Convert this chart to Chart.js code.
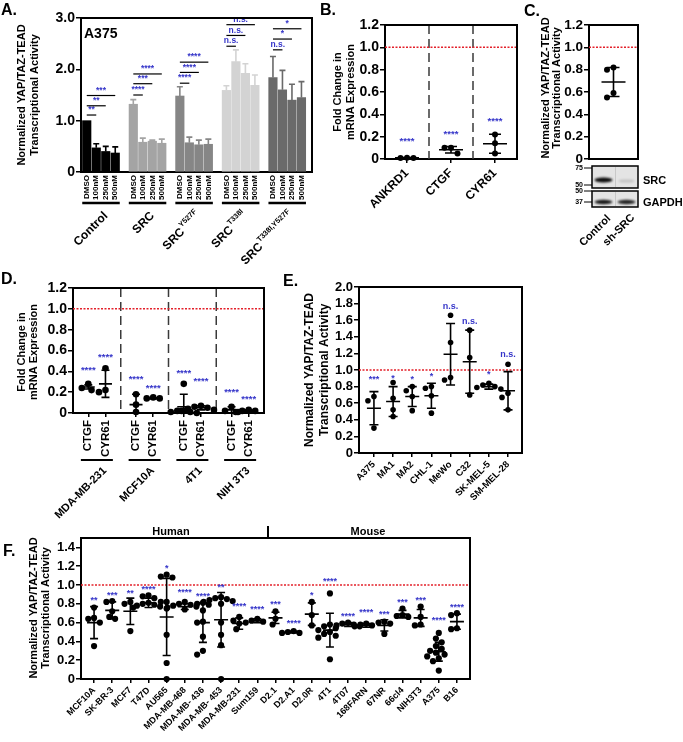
<!DOCTYPE html>
<html>
<head>
<meta charset="utf-8">
<script src="https://cdn.jsdelivr.net/npm/chart.js@4.4.1/dist/chart.umd.min.js"></script>
<style>
html, body { margin: 0; padding: 0; background: #fff; }
#wrap { position: relative; width: 683px; height: 742px; }
#wrap canvas { position: absolute; left: 0; top: 0; }
</style>
</head>
<body>
<div id="wrap">
<canvas id="cA" width="683" height="742"></canvas>
<canvas id="cB" width="683" height="742"></canvas>
<canvas id="cC" width="683" height="742"></canvas>
<canvas id="cD" width="683" height="742"></canvas>
<canvas id="cE" width="683" height="742"></canvas>
<canvas id="cF" width="683" height="742"></canvas>
</div>
<script>
// ---- panel A: bars, A375 ----
const aGroups = ['Control', 'SRC', 'SRC', 'SRC', 'SRC'];
const aGroupSup = ['', '', 'Y527F', 'T338I', 'T338I,Y527F'];
const aDoses = ['DMSO', '100nM', '250nM', '500nM'];
const aMeans = [
    [1.00, 0.47, 0.40, 0.37],
    [1.32, 0.58, 0.60, 0.56],
    [1.48, 0.57, 0.53, 0.54],
    [1.59, 2.15, 1.92, 1.69],
    [1.84, 1.60, 1.40, 1.45]
];
const aErr = [
    [0.00, 0.08, 0.10, 0.12],
    [0.09, 0.08, 0.02, 0.08],
    [0.18, 0.11, 0.09, 0.10],
    [0.09, 0.23, 0.19, 0.20],
    [0.41, 0.38, 0.31, 0.31]
];
const aSigY = [
    [1.11, 1.29, 1.49],
    [1.50, 1.72, 1.91],
    [1.73, 1.94, 2.14],
    [2.45, 2.66, 2.87],
    [2.38, 2.59, 2.79]
];
const aSig = [
    ['**', '**', '***'],
    ['****', '***', '****'],
    ['****', '****', '****'],
    ['n.s.', 'n.s.', 'n.s.'],
    ['n.s.', '*', '*']
];
const aTicks = [0, 1, 2, 3];

// ---- panel B: fold change, three genes ----
const bGenes = ['ANKRD1', 'CTGF', 'CYR61'];
const bPoints = [[0.012, 0.008, 0.010], [0.10, 0.10, 0.05], [0.22, 0.14, 0.05]];
const bMean = [0.010, 0.083, 0.137];
const bSD = [0.003, 0.029, 0.085];
const bSig = ['****', '****', '****'];
const bSigY = [0.16, 0.22, 0.34];
const fold12Ticks = [0, 0.2, 0.4, 0.6, 0.8, 1.0, 1.2];

// ---- panel C: sh-SRC ----
const cPoints = [[0.82, 0.80, 0.59, 0.55]];
const cMean = [0.69];
const cSD = [0.13];

// ---- panel D: fold change per cell line ----
const dLines = ['MDA-MB-231', 'MCF10A', '4T1', 'NIH 3T3'];
const dGenes = ['CTGF', 'CYR61'];
const dPoints = [
    [0.28, 0.24, 0.22], [0.43, 0.22, 0.20],
    [0.18, 0.08, 0.01], [0.14, 0.14, 0.15],
    [0.28, 0.02, 0.01, 0.01, 0.00, 0.02], [0.07, 0.06, 0.05, 0.04, 0.02, 0.03],
    [0.06, 0.02, 0.01], [0.03, 0.02, 0.02, 0.01]
];
const dMean = [0.25, 0.28, 0.08, 0.14, 0.06, 0.05, 0.03, 0.02];
const dSD = [0.02, 0.13, 0.10, 0.006, 0.12, 0.02, 0.03, 0.01];
const dSig = ['****', '****', '****', '****', '****', '****', '****', '****'];
const dSigY = [0.41, 0.53, 0.32, 0.24, 0.38, 0.30, 0.20, 0.13];

// ---- panel E: melanoma lines ----
const eLines = ['A375', 'MA1', 'MA2', 'CHL-1', 'MeWo', 'C32', 'SK-MEL-5', 'SM-MEL-28'];
const ePoints = [
    [0.68, 0.63, 0.30],
    [0.85, 0.66, 0.52, 0.44],
    [0.80, 0.75, 0.68, 0.51],
    [0.80, 0.78, 0.69, 0.48],
    [1.66, 1.33, 0.91, 0.88],
    [1.48, 1.15, 0.70],
    [0.84, 0.82, 0.80, 0.79, 0.77],
    [1.07, 0.72, 0.67, 0.52]
];
const eMean = [0.54, 0.62, 0.68, 0.69, 1.19, 1.10, 0.80, 0.75];
const eSD = [0.20, 0.18, 0.12, 0.15, 0.37, 0.38, 0.03, 0.23];
const eSig = ['***', '*', '*', '*', 'n.s.', 'n.s.', '*', 'n.s.'];
const eSigY = [0.88, 0.90, 0.89, 0.92, 1.76, 1.59, 0.94, 1.19];
const eTicks = [0, 0.2, 0.4, 0.6, 0.8, 1.0, 1.2, 1.4, 1.6, 1.8, 2.0];

// ---- panel F: human and mouse lines ----
const fLines = ['MCF10A', 'SK-BR-3', 'MCF7', 'T47D', 'AU565', 'MDA-MB-468', 'MDA-MB- 436', 'MDA-MB- 453',
    'MDA-MB-231', 'Sum159', 'D2.1', 'D2.A1', 'D2.0R', '4T1', '4T07', '168FARN', '67NR', '66cl4',
    'NIH3T3', 'A375', 'B16'];
const fPoints = [
    [0.76, 0.65, 0.64, 0.60, 0.35],
    [0.83, 0.82, 0.72, 0.66, 0.64],
    [0.82, 0.80, 0.76, 0.51],
    [0.89, 0.88, 0.86, 0.81, 0.80, 0.79, 0.78, 0.77],
    [1.11, 1.09, 1.08, 0.82, 0.82, 0.75, 0.47, 0.17, 0.00],
    [0.82, 0.80, 0.79, 0.78, 0.77, 0.76, 0.74],
    [0.81, 0.80, 0.79, 0.73, 0.61, 0.60, 0.45, 0.30, 0.26],
    [0.87, 0.86, 0.85, 0.84, 0.83, 0.82, 0.80, 0.60, 0.47, 0.36, 0.00],
    [0.66, 0.62, 0.59, 0.53],
    [0.64, 0.62, 0.61, 0.60],
    [0.72, 0.64, 0.58],
    [0.51, 0.50, 0.49, 0.49],
    [0.82, 0.68, 0.57],
    [0.91, 0.58, 0.56, 0.54, 0.52, 0.50, 0.48, 0.46, 0.44, 0.21],
    [0.60, 0.59, 0.58, 0.57, 0.56],
    [0.59, 0.58, 0.57, 0.56],
    [0.61, 0.60, 0.59, 0.48],
    [0.75, 0.68, 0.67, 0.66],
    [0.77, 0.66, 0.58, 0.57],
    [0.49, 0.43, 0.39, 0.35, 0.32, 0.30, 0.28, 0.26, 0.24, 0.22, 0.19, 0.09],
    [0.70, 0.68, 0.54, 0.53]
];
const fMean = [0.60, 0.73, 0.72, 0.81, 0.66, 0.77, 0.60, 0.63, 0.59, 0.62, 0.65, 0.50, 0.69, 0.52,
    0.58, 0.57, 0.57, 0.69, 0.65, 0.29, 0.61];
const fSD = [0.17, 0.09, 0.14, 0.05, 0.41, 0.03, 0.21, 0.29, 0.06, 0.02, 0.06, 0.01, 0.12, 0.18,
    0.02, 0.02, 0.06, 0.04, 0.09, 0.10, 0.08];
const fSig = ['**', '***', '**', '****', '*', '****', '****', '**', '****', '****', '***', '****', '*',
    '****', '****', '****', '***', '***', '***', '****', '****'];
const fSigY = [0.84, 0.89, 0.91, 0.95, 1.18, 0.92, 0.88, 0.97, 0.77, 0.74, 0.79, 0.59, 0.89, 1.04,
    0.67, 0.71, 0.69, 0.81, 0.84, 0.62, 0.76];
const fTicks = [0, 0.2, 0.4, 0.6, 0.8, 1.0, 1.2, 1.4];

// ---------------------------------------------------------------
const W = 683, H = 742;
const FONT = '"Liberation Sans", Arial, Helvetica, sans-serif';
const BLUE = '#3535c9';
const RED = '#e3202a';
const A_STEP = 4.9;
const aColors = ['#000000', '#a4a4a4', '#868686', '#d3d3d3', '#6a6a6a'];

function bold(size) { return 'bold ' + size + 'px ' + FONT; }
function tickFont(size) { return { family: FONT, size: size, weight: 'bold' }; }

function padFor(area, yW, xH) {
    return { left: area.L - yW, top: area.T, right: W - area.R, bottom: H - area.B - xH };
}

function yAxis(max, ticks, size) {
    return {
        min: 0, max: max,
        afterFit: s => { s.width = 40; },
        afterBuildTicks: s => { s.ticks = ticks.map(v => ({ value: v })); },
        ticks: { font: tickFont(size), color: '#000', padding: 1, autoSkip: false,
                 callback: v => v === 0 ? '0' : v.toFixed(1) },
        grid: { drawOnChartArea: false, color: '#000', lineWidth: 1.5, tickLength: 5 },
        border: { color: '#000', width: 2 }
    };
}

function yTitle(ctx, x1, x2, y, l1, l2, size) {
    ctx.save();
    ctx.font = bold(size);
    ctx.fillStyle = '#000';
    ctx.textAlign = 'center';
    ctx.textBaseline = 'middle';
    [[x1, l1], [x2, l2]].forEach(([x, t]) => {
        ctx.save();
        ctx.translate(x, y);
        ctx.rotate(-Math.PI / 2);
        ctx.fillText(t, 0, 0);
        ctx.restore();
    });
    ctx.restore();
}

function letter(ctx, t, x, y) {
    ctx.save();
    ctx.font = bold(16);
    ctx.fillStyle = '#000';
    ctx.textBaseline = 'alphabetic';
    ctx.fillText(t, x, y);
    ctx.restore();
}

function boxTopRight(ctx, area) {
    ctx.save();
    ctx.strokeStyle = '#000';
    ctx.lineWidth = 2;
    ctx.beginPath();
    ctx.moveTo(area.left - 1, area.top);
    ctx.lineTo(area.right, area.top);
    ctx.lineTo(area.right, area.bottom + 1);
    ctx.stroke();
    ctx.restore();
}

function rotLabel(ctx, x, y, base, sup, size) {
    ctx.save();
    ctx.translate(x, y);
    ctx.rotate(-Math.PI / 4);
    ctx.fillStyle = '#000';
    ctx.textBaseline = 'middle';
    ctx.textAlign = 'left';
    const supSize = size * 0.62;
    ctx.font = bold(supSize);
    const ws = sup ? ctx.measureText(sup).width + 1 : 0;
    ctx.font = bold(size);
    const wb = ctx.measureText(base).width;
    ctx.fillText(base, -wb - ws, 0);
    if (sup) {
        ctx.font = bold(supSize);
        ctx.fillText(sup, -ws + 1, -size * 0.42);
    }
    ctx.restore();
}

// place dots of one column side by side when they would overlap
function swarm(vals, pxY, pxX, diam) {
    const placed = [];
    const out = new Array(vals.length).fill(0);
    const order = vals.map((v, i) => i).sort((a, b) => vals[b] - vals[a]);
    order.forEach(i => {
        const y = vals[i] * pxY;
        for (let k = 0; k < 40; k++) {
            const dx = (k % 2 ? -1 : 1) * Math.ceil(k / 2) * diam * 0.5;
            if (placed.every(p => Math.hypot(p.x - dx, p.y - y) >= diam)) {
                placed.push({ x: dx, y: y });
                out[i] = dx / pxX;
                break;
            }
        }
    });
    return out;
}

function drawA() {
    const area = { L: 81, T: 18, R: 312, B: 172 };
    const pts = [], cols = [], ticks = [];
    aMeans.forEach((grp, g) => grp.forEach((v, k) => {
        const x = g * A_STEP + k;
        pts.push({ x: x, y: v });
        cols.push(aColors[g]);
        ticks.push({ value: x });
    }));

    const overlay = {
        id: 'ovA',
        afterDatasetsDraw(chart) {
            const ctx = chart.ctx, xs = chart.scales.x, ys = chart.scales.y;
            ctx.save();
            // error bars, upper only
            aMeans.forEach((grp, g) => grp.forEach((v, k) => {
                const e = aErr[g][k];
                if (!e) return;
                const x = xs.getPixelForValue(g * A_STEP + k);
                const y0 = ys.getPixelForValue(v), y1 = ys.getPixelForValue(v + e);
                ctx.strokeStyle = aColors[g];
                ctx.lineWidth = 1.6;
                ctx.beginPath();
                ctx.moveTo(x, y0); ctx.lineTo(x, y1);
                ctx.moveTo(x - 3, y1); ctx.lineTo(x + 3, y1);
                ctx.stroke();
            }));
            // significance brackets
            aSigY.forEach((levels, g) => levels.forEach((v, j) => {
                const x0 = xs.getPixelForValue(g * A_STEP);
                const x1 = xs.getPixelForValue(g * A_STEP + j + 1);
                const y = ys.getPixelForValue(v);
                ctx.strokeStyle = '#000';
                ctx.lineWidth = 1.2;
                ctx.beginPath();
                ctx.moveTo(x0, y); ctx.lineTo(x1, y);
                ctx.stroke();
                ctx.fillStyle = BLUE;
                ctx.font = bold(8.5);
                ctx.textAlign = 'center';
                ctx.textBaseline = 'bottom';
                ctx.fillText(aSig[g][j], (x0 + x1) / 2, y - 1);
            }));
            ctx.restore();
        },
        afterDraw(chart) {
            const ctx = chart.ctx, xs = chart.scales.x;
            boxTopRight(ctx, chart.chartArea);
            ctx.save();
            ctx.font = bold(14);
            ctx.fillStyle = '#000';
            ctx.fillText('A375', 84, 38);
            // group underlines and names
            ctx.lineWidth = 2.5;
            ctx.strokeStyle = '#000';
            aGroups.forEach((name, g) => {
                const x0 = xs.getPixelForValue(g * A_STEP) - 4.5;
                const x1 = xs.getPixelForValue(g * A_STEP + 3) + 4.5;
                ctx.beginPath();
                ctx.moveTo(x0, 203); ctx.lineTo(x1, 203);
                ctx.stroke();
                rotLabel(ctx, (x0 + x1) / 2 + 5, 214, name, aGroupSup[g], 12);
            });
            ctx.restore();
            yTitle(ctx, 22, 35, 95, 'Normalized YAP/TAZ-TEAD', 'Transcriptional Activity', 11);
            letter(ctx, 'A.', 1, 15);
        }
    };

    new Chart(document.getElementById('cA'), {
        type: 'bar',
        data: { datasets: [{ data: pts, backgroundColor: cols, barThickness: 8.5, clip: false }] },
        options: {
            responsive: false, animation: false, events: [],
            layout: { padding: padFor(area, 40, 40) },
            plugins: { legend: { display: false }, tooltip: { enabled: false } },
            scales: {
                x: {
                    type: 'linear', min: -0.605, max: 23.71, offset: false,
                    afterFit: s => { s.height = 40; },
                    afterBuildTicks: s => { s.ticks = ticks.slice(); },
                    ticks: { autoSkip: false, minRotation: 90, maxRotation: 90, font: tickFont(8),
                             color: '#000', padding: 3, callback: (v, i) => aDoses[i % 4] },
                    grid: { display: false, drawTicks: false, tickLength: 0 },
                    border: { color: '#000', width: 2 }
                },
                y: yAxis(3, aTicks, 14)
            }
        },
        plugins: [overlay]
    });
}

// generic dot plot with mean and SD
function dotPanel(id, o) {
    const pxY = (o.area.B - o.area.T) / o.yMax;
    const pxX = (o.area.R - o.area.L) / (o.xMax - o.xMin);
    const data = [];
    o.points.forEach((vals, i) => {
        const offs = swarm(vals, pxY, pxX, o.diam);
        vals.forEach((v, j) => data.push({ x: o.centers[i] + offs[j], y: v }));
    });

    const overlay = {
        id: 'ov' + id,
        beforeDatasetsDraw(chart) {
            const ctx = chart.ctx, xs = chart.scales.x, ys = chart.scales.y, a = chart.chartArea;
            ctx.save();
            (o.seps || []).forEach(s => {
                const x = xs.getPixelForValue(s);
                ctx.strokeStyle = '#3a3a3a';
                ctx.lineWidth = 1.5;
                ctx.setLineDash([9, 5]);
                ctx.beginPath();
                ctx.moveTo(x, a.top); ctx.lineTo(x, a.bottom);
                ctx.stroke();
            });
            const yr = ys.getPixelForValue(1.0);
            ctx.strokeStyle = RED;
            ctx.lineWidth = 1.5;
            ctx.setLineDash([2, 1.5]);
            ctx.beginPath();
            ctx.moveTo(a.left, yr); ctx.lineTo(a.right, yr);
            ctx.stroke();
            ctx.restore();
        },
        afterDatasetsDraw(chart) {
            const ctx = chart.ctx, xs = chart.scales.x, ys = chart.scales.y;
            ctx.save();
            ctx.strokeStyle = '#000';
            ctx.lineWidth = 1.6;
            o.means.forEach((m, i) => {
                const x = xs.getPixelForValue(o.centers[i]);
                const ym = ys.getPixelForValue(m);
                const yt = ys.getPixelForValue(m + o.sds[i]);
                const yb = ys.getPixelForValue(Math.max(0, m - o.sds[i]));
                ctx.beginPath();
                ctx.moveTo(x - o.meanHalf, ym); ctx.lineTo(x + o.meanHalf, ym);
                ctx.moveTo(x, yt); ctx.lineTo(x, yb);
                ctx.moveTo(x - o.capHalf, yt); ctx.lineTo(x + o.capHalf, yt);
                ctx.moveTo(x - o.capHalf, yb); ctx.lineTo(x + o.capHalf, yb);
                ctx.stroke();
            });
            ctx.fillStyle = BLUE;
            ctx.font = bold(o.sigSize || 9);
            ctx.textAlign = 'center';
            ctx.textBaseline = 'middle';
            (o.sig || []).forEach((t, i) => {
                ctx.fillText(t, xs.getPixelForValue(o.centers[i]), ys.getPixelForValue(o.sigY[i]));
            });
            ctx.restore();
        },
        afterDraw(chart) {
            boxTopRight(chart.ctx, chart.chartArea);
            if (o.extra) o.extra(chart);
        }
    };

    const xTickList = o.labels ? o.centers.map(c => ({ value: c })) : [];
    new Chart(document.getElementById(id), {
        type: 'scatter',
        data: { datasets: [{ data: data, pointRadius: o.r, pointBackgroundColor: '#000',
                             pointBorderWidth: 0, clip: false }] },
        options: {
            responsive: false, animation: false, events: [],
            layout: { padding: padFor(o.area, 40, o.xH) },
            plugins: { legend: { display: false }, tooltip: { enabled: false } },
            scales: {
                x: {
                    type: 'linear', min: o.xMin, max: o.xMax,
                    afterFit: s => { s.height = o.xH; },
                    afterBuildTicks: s => { s.ticks = xTickList.slice(); },
                    ticks: {
                        display: !!o.labels, autoSkip: false, minRotation: o.rot, maxRotation: o.rot,
                        font: tickFont(o.xSize), color: '#000', padding: o.xPad,
                        callback: (v, i) => o.labels ? o.labels[i] : ''
                    },
                    grid: { display: !!o.labels, drawOnChartArea: false, color: '#000', lineWidth: 1.5, tickLength: 4 },
                    border: { color: '#000', width: 2 }
                },
                y: yAxis(o.yMax, o.yTicks, o.ySize)
            }
        },
        plugins: [overlay]
    });
}

function drawBlot(ctx) {
    ctx.save();
    ctx.fillStyle = '#e4e4e4';
    ctx.strokeStyle = '#000';
    ctx.lineWidth = 1.5;
    [[592, 166, 46, 22], [592, 191, 46, 16]].forEach(b => {
        ctx.fillRect(b[0], b[1], b[2], b[3]);
        ctx.strokeRect(b[0], b[1], b[2], b[3]);
    });
    ctx.strokeStyle = '#c8c8c8';
    ctx.lineWidth = 1;
    ctx.beginPath();
    ctx.moveTo(615.5, 167); ctx.lineTo(615.5, 187);
    ctx.moveTo(615.5, 192); ctx.lineTo(615.5, 206);
    ctx.stroke();
    ctx.filter = 'blur(0.8px)';
    [[603.5, 180, 9, 2.6, 'rgba(0,0,0,0.95)'], [626.5, 181, 8, 1.6, 'rgba(0,0,0,0.15)'],
     [603.5, 202, 9, 2.2, 'rgba(0,0,0,0.9)'], [626.5, 202, 9, 2.2, 'rgba(0,0,0,0.85)']].forEach(b => {
        ctx.fillStyle = b[4];
        ctx.beginPath();
        ctx.ellipse(b[0], b[1], b[2], b[3], 0, 0, Math.PI * 2);
        ctx.fill();
    });
    ctx.filter = 'none';
    ctx.fillStyle = '#000';
    ctx.strokeStyle = '#000';
    ctx.font = bold(7);
    ctx.textAlign = 'right';
    ctx.textBaseline = 'middle';
    [['75', 168], ['50', 185], ['50', 191], ['37', 202]].forEach(m => {
        ctx.fillText(m[0], 583, m[1]);
        ctx.beginPath();
        ctx.moveTo(584, m[1]); ctx.lineTo(592, m[1]);
        ctx.stroke();
    });
    ctx.font = bold(11);
    ctx.textAlign = 'left';
    ctx.fillText('SRC', 643, 181);
    ctx.fillText('GAPDH', 643, 203);
    ctx.restore();
    rotLabel(ctx, 609, 217, 'Control', '', 11);
    rotLabel(ctx, 633, 216, 'sh-SRC', '', 11);
}

drawA();

dotPanel('cB', {
    area: { L: 385, T: 25, R: 517, B: 159 },
    xMin: -0.5, xMax: 2.5, yMax: 1.2, yTicks: fold12Ticks, ySize: 14,
    centers: [0, 1, 2], labels: bGenes, rot: 45, xSize: 12, xPad: 3, xH: 70,
    points: bPoints, means: bMean, sds: bSD, sig: bSig, sigY: bSigY, sigSize: 9.5,
    seps: [0.5, 1.5], r: 3, diam: 6.5, meanHalf: 12, capHalf: 6,
    extra(chart) {
        yTitle(chart.ctx, 338, 351, 92, 'Fold Change in', 'mRNA Expression', 11);
        letter(chart.ctx, 'B.', 320, 15);
    }
});

dotPanel('cC', {
    area: { L: 589, T: 25, R: 638, B: 159 },
    xMin: -0.5, xMax: 0.5, yMax: 1.2, yTicks: fold12Ticks, ySize: 13.5,
    centers: [0], labels: null, rot: 0, xSize: 10, xPad: 2, xH: 30,
    points: cPoints, means: cMean, sds: cSD, r: 3, diam: 6.5, meanHalf: 12, capHalf: 6,
    extra(chart) {
        yTitle(chart.ctx, 546, 557, 88, 'Normalized YAP/TAZ-TEAD', 'Transcriptional Activity', 11);
        letter(chart.ctx, 'C.', 524, 16);
        drawBlot(chart.ctx);
    }
});

const dCenters = [];
dLines.forEach((n, g) => { dCenters.push(g + 0.5 - 0.18, g + 0.5 + 0.18); });
dotPanel('cD', {
    area: { L: 73, T: 288, R: 264, B: 413 },
    xMin: 0, xMax: 4, yMax: 1.2, yTicks: fold12Ticks, ySize: 14,
    centers: dCenters, labels: dCenters.map((c, i) => dGenes[i % 2]), rot: 90, xSize: 11.5, xPad: 3, xH: 45,
    points: dPoints, means: dMean, sds: dSD, sig: dSig, sigY: dSigY, sigSize: 9.5,
    seps: [1, 2, 3], r: 3.3, diam: 6.5, meanHalf: 6.5, capHalf: 4,
    extra(chart) {
        const ctx = chart.ctx, xs = chart.scales.x;
        ctx.save();
        ctx.strokeStyle = '#000';
        ctx.lineWidth = 2;
        dLines.forEach((name, g) => {
            const c = xs.getPixelForValue(g + 0.5);
            ctx.beginPath();
            ctx.moveTo(c - 16, 460); ctx.lineTo(c + 16, 460);
            ctx.stroke();
            rotLabel(ctx, c + 8, 469, name, '', 11);
        });
        ctx.restore();
        yTitle(ctx, 22, 34, 352, 'Fold Change in', 'mRNA Expression', 11);
        letter(ctx, 'D.', 1, 284);
    }
});

dotPanel('cE', {
    area: { L: 359, T: 287, R: 522, B: 453 },
    xMin: -0.78, xMax: 7.73, yMax: 2.0, yTicks: eTicks, ySize: 13,
    centers: eLines.map((n, i) => i), labels: eLines, rot: 45, xSize: 9.5, xPad: 2, xH: 70,
    points: ePoints, means: eMean, sds: eSD, sig: eSig, sigY: eSigY, sigSize: 9,
    r: 2.8, diam: 6, meanHalf: 7, capHalf: 4.5,
    extra(chart) {
        yTitle(chart.ctx, 310, 325, 370, 'Normalized YAP/TAZ-TEAD', 'Transcriptional Activity', 12);
        letter(chart.ctx, 'E.', 283, 286);
    }
});

dotPanel('cF', {
    area: { L: 81, T: 538, R: 470, B: 679 },
    xMin: -0.72, xMax: 20.72, yMax: 1.5, yTicks: fTicks, ySize: 13,
    centers: fLines.map((n, i) => i), labels: fLines, rot: 45, xSize: 9, xPad: 2, xH: 62,
    points: fPoints, means: fMean, sds: fSD, sig: fSig, sigY: fSigY, sigSize: 9,
    r: 3.1, diam: 5.8, meanHalf: 7, capHalf: 4,
    extra(chart) {
        const ctx = chart.ctx;
        ctx.save();
        ctx.font = bold(11);
        ctx.fillStyle = '#000';
        ctx.textAlign = 'center';
        ctx.textBaseline = 'alphabetic';
        ctx.fillText('Human', 171, 535);
        ctx.fillText('Mouse', 368, 535);
        ctx.lineWidth = 2;
        ctx.strokeStyle = '#000';
        ctx.beginPath();
        ctx.moveTo(268, 526); ctx.lineTo(268, 538);
        ctx.stroke();
        ctx.restore();
        yTitle(ctx, 34, 46, 608, 'Normalized YAP/TAZ-TEAD', 'Transcriptional Activity', 11);
        letter(ctx, 'F.', 3, 556);
    }
});
</script>
</body>
</html>
